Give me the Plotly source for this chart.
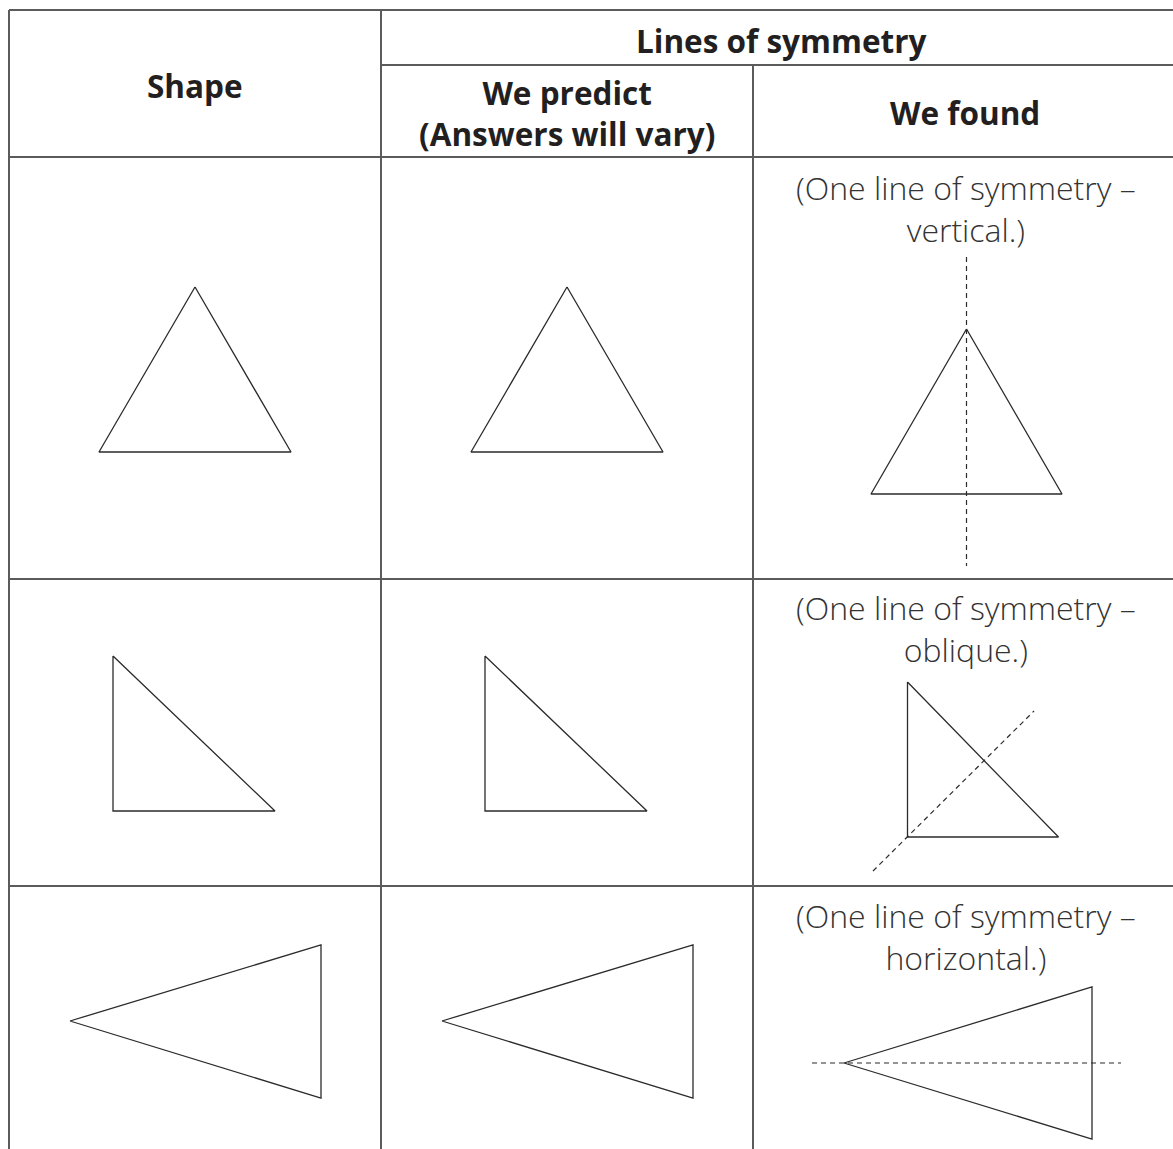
import plotly.graph_objects as go

W, H = 1173, 1149

# ---- table structure (pixel coordinates of the drawing) ----
col_edges = [9, 381, 753]
row_edges = [10, 157, 579, 886]
subheader_y = 65

# ---- header texts ----
header_shape = "Shape"
header_group = "Lines of symmetry"
header_predict = "We predict<br>(Answers will vary)"
header_found = "We found"

# ---- found texts ----
found_texts = [
    "(One line of symmetry –<br>vertical.)",
    "(One line of symmetry –<br>oblique.)",
    "(One line of symmetry –<br>horizontal.)",
]
found_text_y = [208, 628, 936]

# ---- shapes: triangles per column (x list, y list) ----
tri1_c1_x = [195, 291, 99, 195]; tri1_c1_y = [287, 452, 452, 287]
tri1_c2_x = [567, 663, 471, 567]; tri1_c2_y = [287, 452, 452, 287]
tri1_c3_x = [966.5, 1062, 871, 966.5]; tri1_c3_y = [329, 494, 494, 329]

tri2_c1_x = [113, 113, 275, 113]; tri2_c1_y = [656, 811, 811, 656]
tri2_c2_x = [485, 485, 647, 485]; tri2_c2_y = [656, 811, 811, 656]
tri2_c3_x = [907.5, 907.5, 1058.5, 907.5]; tri2_c3_y = [682, 837, 837, 682]

tri3_c1_x = [70, 321, 321, 70]; tri3_c1_y = [1021, 945, 1098, 1021]
tri3_c2_x = [442, 693, 693, 442]; tri3_c2_y = [1021, 945, 1098, 1021]
tri3_c3_x = [844, 1092, 1092, 844]; tri3_c3_y = [1063, 987, 1139, 1063]

triangles = [
    (tri1_c1_x, tri1_c1_y), (tri1_c2_x, tri1_c2_y), (tri1_c3_x, tri1_c3_y),
    (tri2_c1_x, tri2_c1_y), (tri2_c2_x, tri2_c2_y), (tri2_c3_x, tri2_c3_y),
    (tri3_c1_x, tri3_c1_y), (tri3_c2_x, tri3_c2_y), (tri3_c3_x, tri3_c3_y),
]

# ---- symmetry lines (dashed) ----
sym1_x = [966.5, 966.5]; sym1_y = [257, 566]
sym2_x = [873, 1034]; sym2_y = [871, 711]
sym3_x = [812, 1121]; sym3_y = [1063, 1063]
sym_lines = [(sym1_x, sym1_y), (sym2_x, sym2_y), (sym3_x, sym3_y)]

GRID = "#5b5b5b"
INK = "#2b2b2b"
TXT = "#231f20"

fig = go.Figure()

# table grid lines
grid_segments = [
    ([col_edges[0], W], [row_edges[0], row_edges[0]]),
    ([col_edges[1], W], [subheader_y, subheader_y]),
    ([col_edges[0], W], [row_edges[1], row_edges[1]]),
    ([col_edges[0], W], [row_edges[2], row_edges[2]]),
    ([col_edges[0], W], [row_edges[3], row_edges[3]]),
    ([col_edges[0], col_edges[0]], [row_edges[0], H]),
    ([col_edges[1], col_edges[1]], [row_edges[0], H]),
    ([col_edges[2], col_edges[2]], [subheader_y, H]),
]
for xs, ys in grid_segments:
    fig.add_trace(go.Scatter(x=xs, y=ys, mode="lines",
                             line=dict(color=GRID, width=2),
                             hoverinfo="skip", showlegend=False))

for xs, ys in triangles:
    fig.add_trace(go.Scatter(x=xs, y=ys, mode="lines",
                             line=dict(color=INK, width=1.3),
                             hoverinfo="skip", showlegend=False))

for xs, ys in sym_lines:
    fig.add_trace(go.Scatter(x=xs, y=ys, mode="lines",
                             line=dict(color=INK, width=1.2, dash="5px,4px"),
                             hoverinfo="skip", showlegend=False))

bold = dict(family="Open Sans", size=31.5, color=TXT, weight=700)
light = dict(family="Open Sans", size=32, color="#333333", weight=300)

fig.add_annotation(x=195, y=85, text=header_shape, font=bold)
fig.add_annotation(x=781, y=40, text=header_group, font=bold)
fig.add_annotation(x=567, y=113, text=header_predict, font=bold)
fig.add_annotation(x=965, y=112, text=header_found, font=bold)
for t, y in zip(found_texts, found_text_y):
    fig.add_annotation(x=966, y=y, text=t, font=light)
fig.update_annotations(showarrow=False, xref="x", yref="y",
                       xanchor="center", yanchor="middle")

fig.update_layout(
    width=W, height=H,
    margin=dict(l=0, r=0, t=0, b=0),
    paper_bgcolor="white", plot_bgcolor="white",
    xaxis=dict(range=[0, W], visible=False, fixedrange=True),
    yaxis=dict(range=[H, 0], visible=False, fixedrange=True),
    showlegend=False,
)

fig.write_html(
    "out.html",
    config={"displayModeBar": False},
    post_script="document.body.style.margin='0';document.body.style.overflow='hidden';",
)
